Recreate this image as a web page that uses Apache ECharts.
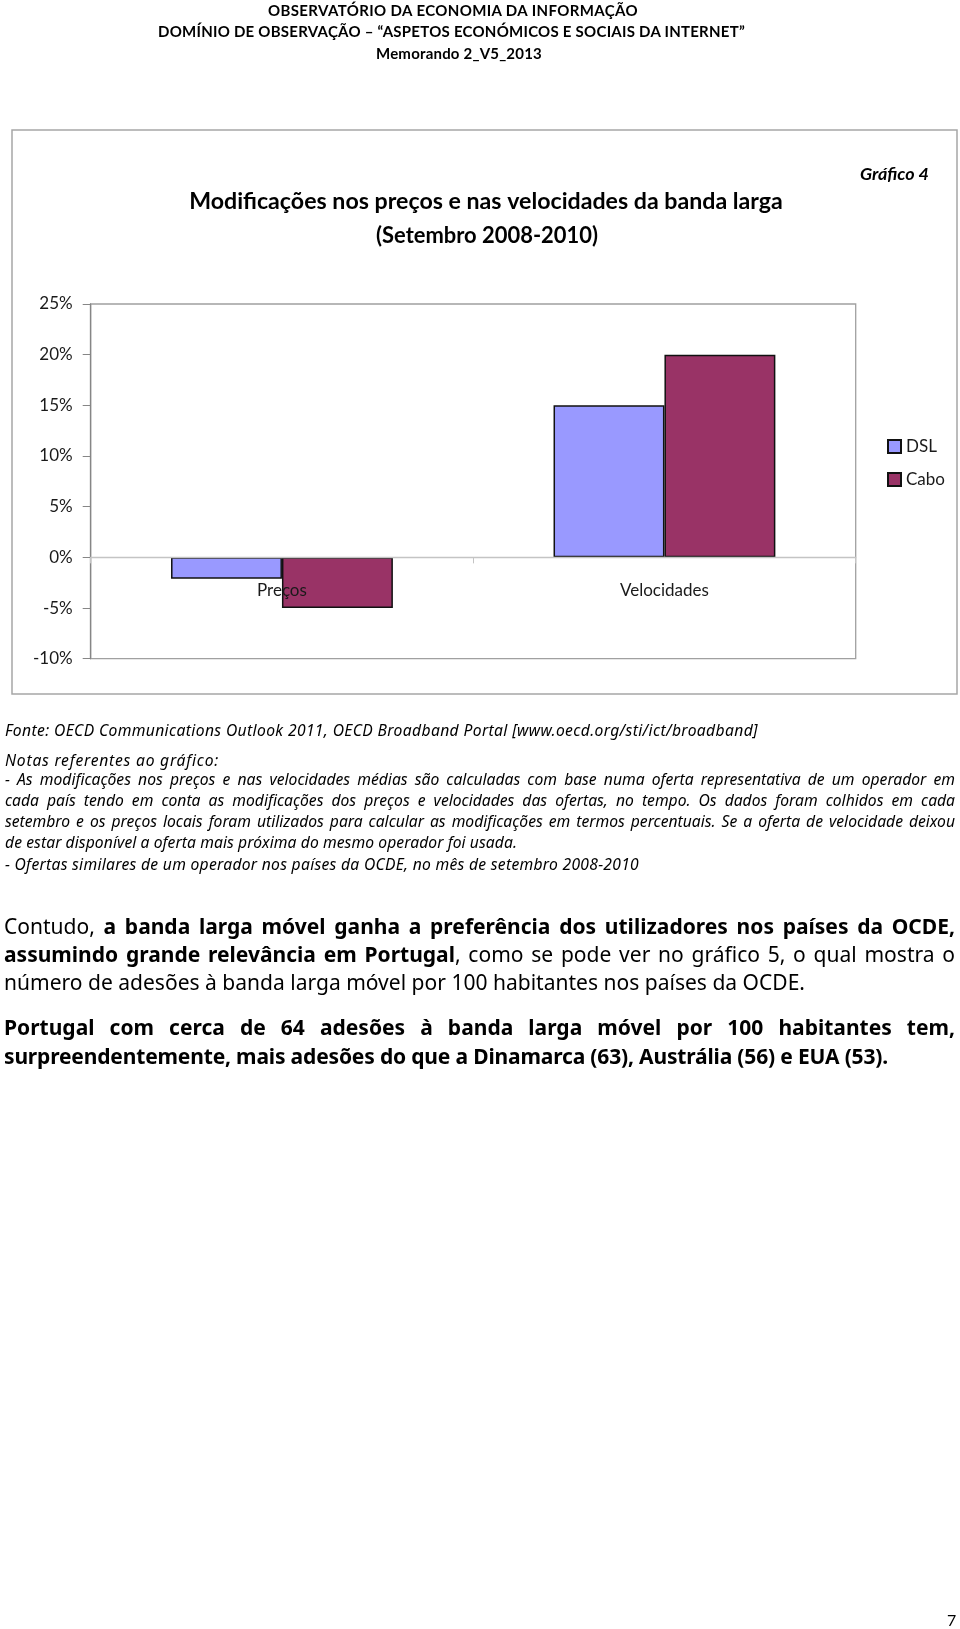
<!DOCTYPE html>
<html>
<head>
<meta charset="utf-8">
<script src="https://cdn.jsdelivr.net/npm/echarts@6/dist/echarts.min.js"></script>
<style>
html,body{margin:0;padding:0;background:#fff;width:960px;height:1629px;overflow:hidden;}
#chart{position:absolute;left:0;top:0;width:960px;height:1629px;}
#text{position:absolute;left:0;top:0;width:960px;height:1629px;pointer-events:none;}
.ln{position:absolute;white-space:nowrap;color:#000;line-height:1;}
</style>
</head>
<body>
<div id="chart"></div>
<div id="text"></div>
<script>
// ---- chart data ----
const categories = ['Preços', 'Velocidades'];
const seriesNames = ['DSL', 'Cabo'];
const dslValues = [-2.1, 15];
const caboValues = [-5, 20];
const yMin = -10, yMax = 25, yStep = 5;

// ---- chart texts ----
const chartTitle = 'Modificações nos preços e nas velocidades da banda larga';
const chartSubtitle = '(Setembro 2008-2010)';
const chartLabel = 'Gráfico 4';

// ---- page texts ----
const headerLines = [
  'OBSERVATÓRIO DA ECONOMIA DA INFORMAÇÃO',
  'DOMÍNIO DE OBSERVAÇÃO – “ASPETOS ECONÓMICOS E SOCIAIS DA INTERNET”',
  'Memorando 2_V5_2013'
];
const sourceLine = 'Fonte: OECD Communications Outlook 2011, OECD Broadband Portal [www.oecd.org/sti/ict/broadband]';
const noteLines = [
  'Notas referentes ao gráfico:',
  '- As modificações nos preços e nas velocidades médias são calculadas com base numa oferta representativa de um operador em',
  'cada país tendo em conta as modificações dos preços e velocidades das ofertas, no tempo. Os dados foram colhidos em cada',
  'setembro e os preços locais foram utilizados para calcular as modificações em termos percentuais. Se a oferta de velocidade deixou',
  'de estar disponível a oferta mais próxima do mesmo operador foi usada.',
  '- Ofertas similares de um operador nos países da OCDE, no mês de setembro 2008-2010'
];
const bodyLines = [
  'Contudo, <b>a banda larga móvel ganha a preferência dos utilizadores nos países da OCDE,</b>',
  '<b>assumindo grande relevância em Portugal</b>, como se pode ver no gráfico 5, o qual mostra o',
  'número de adesões à banda larga móvel por 100 habitantes nos países da OCDE.',
  '<b>Portugal com cerca de 64 adesões à banda larga móvel por 100 habitantes tem,</b>',
  '<b>surpreendentemente, mais adesões do que a Dinamarca (63), Austrália (56) e EUA (53).</b>'
];
const pageNumber = '7';

// ---- text layout ----
const HEAD = "Lato, 'Noto Sans', sans-serif";
const BODY = "'Noto Sans', Lato, sans-serif";
const layout = [
  {html: headerLines[0], x: 268, base: 16, size: 15, weight: 700, font: HEAD, mode: 'fit', w: 370},
  {html: headerLines[1], x: 158, base: 37, size: 15, weight: 700, font: HEAD, mode: 'fit', w: 587},
  {html: headerLines[2], x: 376, base: 59, size: 15, weight: 700, font: HEAD, mode: 'fit', w: 166},
  {html: sourceLine, x: 5, base: 737, size: 14.5, italic: true, font: BODY, group: 'n', ref: true, mode: 'fit', w: 753},
  {html: noteLines[0], x: 5, base: 767, size: 14.5, italic: true, font: BODY, group: 'n', mode: 'fit', w: 214},
  {html: noteLines[1], x: 5, base: 786, size: 14.5, italic: true, font: BODY, group: 'n', mode: 'justify', w: 950},
  {html: noteLines[2], x: 5, base: 807, size: 14.5, italic: true, font: BODY, group: 'n', mode: 'justify', w: 950},
  {html: noteLines[3], x: 5, base: 828, size: 14.5, italic: true, font: BODY, group: 'n', mode: 'justify', w: 950},
  {html: noteLines[4], x: 5, base: 849, size: 14.5, italic: true, font: BODY, group: 'n', mode: 'fit', w: 512},
  {html: noteLines[5], x: 5, base: 871, size: 14.5, italic: true, font: BODY, group: 'n', mode: 'fit', w: 634},
  {html: bodyLines[0], x: 4, base: 935, size: 20, font: BODY, group: 'b', mode: 'justify', w: 951},
  {html: bodyLines[1], x: 4, base: 963, size: 20, font: BODY, group: 'b', mode: 'justify', w: 951},
  {html: bodyLines[2], x: 4, base: 991, size: 20, font: BODY, group: 'b', ref: true, mode: 'fit', w: 801},
  {html: bodyLines[3], x: 4, base: 1036, size: 20, font: BODY, group: 'b', mode: 'justify', w: 951},
  {html: bodyLines[4], x: 4, base: 1065, size: 20, font: BODY, group: 'b', mode: 'fit', w: 884},
  {html: pageNumber, x: 947, base: 1626, size: 16, font: HEAD}
];

const textHost = document.getElementById('text');
function makeLine(spec, size) {
  const d = document.createElement('div');
  d.className = 'ln';
  d.innerHTML = spec.html;
  d.style.fontFamily = spec.font;
  d.style.fontSize = size + 'px';
  d.style.fontWeight = spec.weight || 400;
  d.style.fontStyle = spec.italic ? 'italic' : 'normal';
  d.style.left = spec.x + 'px';
  d.style.top = (spec.base - 0.9 * size) + 'px';
  textHost.appendChild(d);
  return d;
}
// group sizes from reference lines (clamped)
const groupSize = {};
layout.filter(s => s.ref).forEach(s => {
  const d = makeLine(s, s.size);
  const w = d.getBoundingClientRect().width;
  let sz = s.size * s.w / w;
  sz = Math.max(s.size * 0.92, Math.min(s.size * 1.08, sz));
  groupSize[s.group] = sz;
  textHost.removeChild(d);
});
layout.forEach(spec => {
  const size = spec.group && groupSize[spec.group] ? groupSize[spec.group] : spec.size;
  const d = makeLine(spec, size);
  const w = d.getBoundingClientRect().width;
  if (spec.mode === 'justify') {
    const n = (d.textContent.match(/ /g) || []).length;
    if (n) d.style.wordSpacing = ((spec.w - w) / n) + 'px';
  } else if (spec.mode === 'fit') {
    const n = d.textContent.length;
    d.style.letterSpacing = ((spec.w - w) / n) + 'px';
  }
});

// ---- measuring helper for chart titles ----
const mctx = document.createElement('canvas').getContext('2d');
function fitSize(text, style, base, target) {
  mctx.font = style + ' ' + base + 'px Lato';
  const w = mctx.measureText(text).width;
  let s = base * target / w;
  s = Math.max(base * 0.88, Math.min(base * 1.12, s));
  return s;
}
function titleItem(text, style, base, target, left, baseline) {
  const s = fitSize(text, style, base, target);
  mctx.font = style + ' ' + s + 'px Lato';
  const w = mctx.measureText(text).width;
  return {
    text: text,
    left: left + (target - w) / 2,
    top: baseline - 0.85 * s,
    padding: 0,
    textStyle: {
      fontFamily: 'Lato',
      fontWeight: 'bold',
      fontStyle: style.indexOf('italic') >= 0 ? 'italic' : 'normal',
      fontSize: s,
      lineHeight: s,
      color: '#000'
    }
  };
}

const chart = echarts.init(document.getElementById('chart'), null, {renderer: 'canvas'});
const axisFont = {fontFamily: 'Lato', fontSize: 17, color: '#1a1a1a'};
const gridTop = 304, gridBottomY = 658.7;
const zeroY = gridTop + (gridBottomY - gridTop) * (yMax - 0) / (yMax - yMin);

chart.setOption({
  backgroundColor: 'transparent',
  animation: false,
  title: [
    titleItem(chartTitle, 'bold', 21.5, 594, 189, 210),
    titleItem(chartSubtitle, 'bold', 21.5, 222, 376, 244),
    titleItem(chartLabel, 'italic bold', 16, 77, 856, 180)
  ],
  graphic: [{
    type: 'rect',
    shape: {x: 12, y: 130, width: 945, height: 564},
    style: {fill: 'none', stroke: '#a6a6a6', lineWidth: 1.5},
    silent: true
  }],
  legend: {
    data: seriesNames,
    orient: 'vertical',
    left: 882,
    top: 433,
    itemWidth: 13,
    itemHeight: 13,
    itemGap: 16,
    icon: 'rect',
    textStyle: {fontFamily: 'Lato', fontSize: 17, color: '#1a1a1a'}
  },
  grid: {
    left: 90.7,
    right: 104.3,
    top: gridTop,
    bottom: 1629 - gridBottomY,
    containLabel: false,
    show: true,
    borderColor: '#a0a0a0',
    borderWidth: 1.3,
    backgroundColor: 'transparent'
  },
  xAxis: {
    type: 'category',
    data: categories,
    z: 5,
    axisLine: {onZero: true, lineStyle: {color: '#c4c4c4', width: 1.3}},
    axisTick: {show: true, length: 6, lineStyle: {color: '#c4c4c4'}},
    axisLabel: Object.assign({margin: 25 - (gridBottomY - zeroY)}, axisFont),
    splitLine: {show: false}
  },
  yAxis: {
    type: 'value',
    min: yMin,
    max: yMax,
    interval: yStep,
    axisLine: {show: true, lineStyle: {color: '#868686', width: 1.3}},
    axisTick: {show: true, length: 8, lineStyle: {color: '#868686'}},
    axisLabel: Object.assign({margin: 18, formatter: '{value}%'}, axisFont),
    splitLine: {show: false}
  },
  series: [
    {
      name: seriesNames[0],
      type: 'bar',
      z: 2,
      data: dslValues,
      barGap: '0%',
      barCategoryGap: '42%',
      itemStyle: {color: '#9999FF', borderColor: '#111', borderWidth: 1.5}
    },
    {
      name: seriesNames[1],
      type: 'bar',
      z: 2,
      data: caboValues,
      barGap: '0%',
      barCategoryGap: '42%',
      itemStyle: {color: '#993366', borderColor: '#111', borderWidth: 1.5}
    }
  ]
});
</script>
</body>
</html>
